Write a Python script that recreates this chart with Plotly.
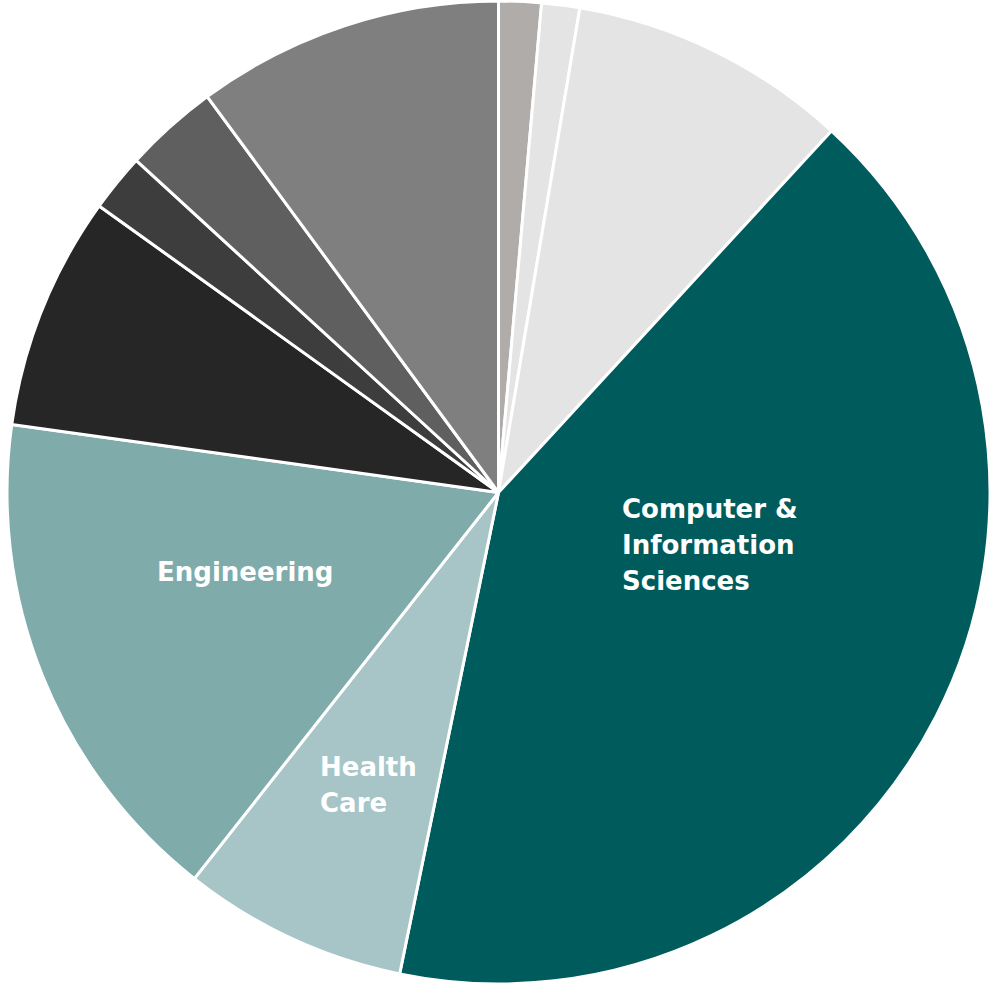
import plotly.graph_objects as go

# Share of degrees by field (percent), clockwise from 12 o'clock
fields = [
    "Other field 1",
    "Other field 2",
    "Other field 3",
    "Computer & Information Sciences",
    "Health Care",
    "Engineering",
    "Other field 4",
    "Other field 5",
    "Other field 6",
    "Other field 7",
]
shares = [1.4, 1.25, 9.2, 41.4, 7.4, 16.6, 7.7, 1.9, 3.1, 10.1]
slice_colors = [
    "#b0acaa", "#e4e4e4", "#e4e4e4", "#005b5c", "#a7c5c6",
    "#80abab", "#262626", "#3d3d3d", "#5f5f5f", "#7f7f7f",
]

# In-slice labels: (field, lines, left x px, first-line cap centre y px)
label_lines = {
    "Computer & Information Sciences": ["Computer &", "Information", "Sciences"],
    "Engineering": ["Engineering"],
    "Health Care": ["Health", "Care"],
}
label_pos = {
    "Computer & Information Sciences": (620, 509),
    "Engineering": (155, 572),
    "Health Care": (318, 767),
}

W, H = 993, 986
LINE_GAP = 36

fig = go.Figure(
    go.Pie(
        labels=fields,
        values=shares,
        sort=False,
        direction="clockwise",
        rotation=0,
        marker=dict(colors=slice_colors, line=dict(color="white", width=3)),
        textinfo="none",
        hoverinfo="label+percent",
        domain=dict(x=[7 / W, 990 / W], y=[2 / H, 985 / H]),
        showlegend=False,
    )
)

annotations = []
for name, lines in label_lines.items():
    x0, y0 = label_pos[name]
    for i, line in enumerate(lines):
        annotations.append(
            dict(
                text=line,
                x=x0 / W,
                y=1 - (y0 + i * LINE_GAP) / H,
                xref="paper",
                yref="paper",
                xanchor="left",
                yanchor="middle",
                showarrow=False,
                font=dict(family="DejaVu Sans", size=26, color="white", weight="bold"),
            )
        )

fig.update_layout(
    width=W,
    height=H,
    margin=dict(l=0, r=0, t=0, b=0),
    paper_bgcolor="white",
    plot_bgcolor="white",
    annotations=annotations,
)

fig.write_html("out.html")
